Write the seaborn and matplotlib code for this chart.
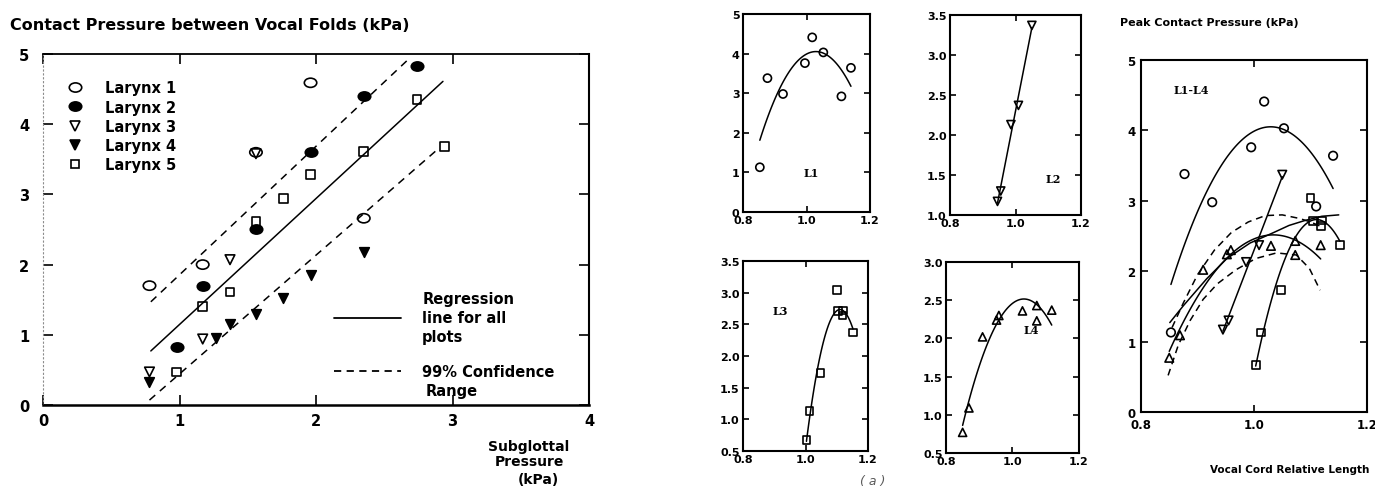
import numpy as np
import matplotlib
matplotlib.use("Agg")
import matplotlib.pyplot as plt
from matplotlib.lines import Line2D
from matplotlib.path import Path
from matplotlib.transforms import Affine2D
from matplotlib.ticker import FormatStrFormatter
import seaborn as sns

# ---------------- data ----------------
# Contact pressure between vocal folds vs subglottal pressure (kPa)
larynx1_x = [0.78, 1.17, 1.56, 1.96, 2.35]
larynx1_y = [1.70, 2.00, 3.60, 4.59, 2.66]
larynx2_x = [0.98, 1.17, 1.56, 1.96, 2.35, 2.74]
larynx2_y = [0.83, 1.70, 2.51, 3.61, 4.40, 4.83]
larynx3_x = [0.78, 1.17, 1.37, 1.56]
larynx3_y = [0.47, 0.94, 2.07, 3.58]
larynx4_x = [0.78, 1.27, 1.37, 1.56, 1.76, 1.96, 2.35]
larynx4_y = [0.33, 0.95, 1.16, 1.30, 1.52, 1.85, 2.18]
larynx5_x = [0.98, 1.17, 1.37, 1.56, 1.76, 1.96, 2.35, 2.74, 2.94]
larynx5_y = [0.47, 1.40, 1.61, 2.61, 2.94, 3.28, 3.61, 4.35, 3.68]
larynx_labels = ["Larynx 1", "Larynx 2", "Larynx 3", "Larynx 4", "Larynx 5"]

# regression line for all plots and its 99% confidence limits
regression_x = [0.79, 2.93]
regression_y = [0.77, 4.61]
conf_upper_x = [0.79, 2.68]
conf_upper_y = [1.47, 4.93]
conf_lower_x = [0.78, 2.89]
conf_lower_y = [0.07, 3.64]

# Peak contact pressure (kPa) vs vocal cord relative length, larynges L1-L4
l1_len = [0.853, 0.877, 0.926, 0.995, 1.018, 1.053, 1.110, 1.140]
l1_peak = [1.13, 3.38, 2.98, 3.76, 4.41, 4.03, 2.92, 3.64]
l2_len = [0.945, 0.955, 0.986, 1.009, 1.050]
l2_peak = [1.17, 1.30, 2.13, 2.37, 3.37]
l3_len = [1.003, 1.013, 1.048, 1.100, 1.104, 1.118, 1.120, 1.152]
l3_peak = [0.67, 1.13, 1.73, 3.04, 2.71, 2.64, 2.72, 2.37]
l4_len = [0.850, 0.869, 0.910, 0.952, 0.959, 1.030, 1.073, 1.073, 1.118]
l4_peak = [0.77, 1.09, 2.02, 2.24, 2.30, 2.36, 2.43, 2.23, 2.37]

# combined trend and confidence band in the L1-L4 panel
combined_len = [0.851, 0.875, 0.916, 0.952, 0.993, 1.035, 1.062, 1.090, 1.120, 1.150]
combined_peak = [1.27, 1.51, 1.89, 2.18, 2.40, 2.55, 2.65, 2.72, 2.78, 2.80]
band_upper_len = [0.855, 0.875, 0.900, 0.930, 0.960, 0.990, 1.020, 1.050, 1.080, 1.100, 1.117]
band_upper_peak = [1.20, 1.55, 1.95, 2.30, 2.55, 2.70, 2.79, 2.80, 2.75, 2.70, 2.64]
band_lower_len = [0.848, 0.866, 0.887, 0.910, 0.935, 0.968, 1.003, 1.040, 1.075, 1.098, 1.117]
band_lower_peak = [0.52, 0.95, 1.30, 1.60, 1.82, 2.02, 2.18, 2.26, 2.23, 2.04, 1.73]

# ---------------- style ----------------
sns.set_theme(style="ticks", rc={
    "axes.edgecolor": "black", "xtick.color": "black", "ytick.color": "black",
    "text.color": "black", "axes.labelcolor": "black",
})
plt.rcParams["font.family"] = ["DejaVu Sans"]
plt.rcParams["font.weight"] = "bold"

W, H = 1375, 502
fig = plt.figure(figsize=(W / 100, H / 100), dpi=100)


def add_axes(left, right, top, bottom):
    return fig.add_axes([left / W, 1 - bottom / H, (right - left) / W, (bottom - top) / H])


ellipse = Path.unit_circle().transformed(Affine2D().scale(1.35, 1.0))


def draw_points(ax, x, y, marker, filled, size, lw=1.2):
    sns.scatterplot(x=x, y=y, marker=marker, s=size,
                    color="black" if filled else "none", edgecolor="black",
                    linewidth=lw, legend=False, ax=ax, zorder=3)


def draw_fit(ax, x, y, order):
    sns.regplot(x=np.asarray(x), y=np.asarray(y), order=order, ci=None,
                scatter=False, truncate=True, color="black",
                line_kws={"linewidth": 1.1}, ax=ax)


# ---------------- left panel ----------------
MAIN_FS = 10.5
ax = add_axes(43, 589, 55, 406)
series = [
    (larynx1_x, larynx1_y, ellipse, False, 80),
    (larynx2_x, larynx2_y, ellipse, True, 80),
    (larynx3_x, larynx3_y, "v", False, 48),
    (larynx4_x, larynx4_y, "v", True, 48),
    (larynx5_x, larynx5_y, "s", False, 40),
]
for x, y, m, filled, s in series:
    draw_points(ax, x, y, m, filled, s)

sns.lineplot(x=regression_x, y=regression_y, color="black", linewidth=1.1, ax=ax)
sns.lineplot(x=conf_upper_x, y=conf_upper_y, color="black", linewidth=1.1,
             linestyle=(0, (5, 4)), ax=ax)
sns.lineplot(x=conf_lower_x, y=conf_lower_y, color="black", linewidth=1.1,
             linestyle=(0, (5, 4)), ax=ax)

ax.set_xlim(0, 4)
ax.set_ylim(0, 5)
ax.set_xticks(range(5))
ax.set_yticks(range(6))
ax.tick_params(direction="in", length=7, width=1.2, top=True, right=True, labelsize=MAIN_FS)
ax.tick_params(axis="x", pad=6)
ax.tick_params(axis="y", pad=10)
ax.spines["left"].set_linestyle((0, (1, 2.5)))
ax.spines["left"].set_color("0.55")
ax.spines["left"].set_linewidth(0.8)
ax.spines["bottom"].set_linewidth(1.8)
ax.spines["top"].set_linewidth(1.3)
ax.spines["right"].set_linewidth(1.5)

handles = []
for x, y, m, filled, s in series:
    handles.append(Line2D([], [], linestyle="none", marker=m,
                          markersize=np.sqrt(s),
                          markerfacecolor="black" if filled else "none",
                          markeredgecolor="black", markeredgewidth=1.2))
leg1 = ax.legend(handles, larynx_labels, loc="upper left",
                 bbox_to_anchor=(0.045, 0.925), frameon=False, fontsize=MAIN_FS,
                 borderpad=0, borderaxespad=0, handlelength=1.0,
                 handletextpad=1.55, labelspacing=0.29)
ax.add_artist(leg1)

key_handles = [Line2D([], [], color="black", linewidth=1.3),
               Line2D([], [], color="black", linewidth=1.3, linestyle=(0, (4, 3)))]
leg2 = ax.legend(key_handles, ["Regression\nline for all\nplots", "99% Confidence"],
                 loc="upper left", bbox_to_anchor=(0.533, 0.326), frameon=False,
                 fontsize=MAIN_FS, borderpad=0, borderaxespad=0, handlelength=4.6,
                 handletextpad=1.45, labelspacing=1.4)
for t in leg2.get_texts():
    t.set_linespacing(1.35)
ax.text(2.80, 0.20, "Range", fontsize=MAIN_FS, ha="left", va="center")

ax.text(3.56, -0.585, "Subglottal", fontsize=10, ha="center", va="center", clip_on=False)
ax.text(3.56, -0.80, "Pressure", fontsize=10, ha="center", va="center", clip_on=False)
ax.text(3.63, -1.05, "(kPa)", fontsize=10, ha="center", va="center", clip_on=False)

fig.text(10 / W, 1 - 25 / H, "Contact Pressure between Vocal Folds (kPa)",
         fontsize=11.5, ha="left", va="center")

# ---------------- individual larynx panels ----------------
panels = [
    ((743, 870, 15, 213), l1_len, l1_peak, "o", 2, (0, 5), np.arange(0, 6, 1), "%d", "L1", (1.016, 0.99)),
    ((950, 1081, 16, 216), l2_len, l2_peak, "v", 1, (1.0, 3.5), np.arange(1.0, 3.51, 0.5), "%.1f", "L2", (1.116, 1.46)),
    ((743, 868, 262, 452), l3_len, l3_peak, "s", 2, (0.5, 3.5), np.arange(0.5, 3.51, 0.5), "%.1f", "L3", (0.92, 2.72)),
    ((946, 1079, 263, 454), l4_len, l4_peak, "^", 2, (0.5, 3.0), np.arange(0.5, 3.01, 0.5), "%.1f", "L4", (1.055, 2.12)),
]
for box, x, y, m, order, ylim, yticks, fmt, name, pos in panels:
    pax = add_axes(*box)
    draw_fit(pax, x, y, order)
    draw_points(pax, x, y, m, False, 34 if m != "s" else 30)
    pax.set_xlim(0.8, 1.2)
    pax.set_ylim(*ylim)
    pax.set_xticks([0.8, 1.0, 1.2])
    pax.set_yticks(yticks)
    pax.xaxis.set_major_formatter(FormatStrFormatter("%.1f"))
    pax.yaxis.set_major_formatter(FormatStrFormatter(fmt))
    pax.tick_params(direction="in", length=4, width=1.2, top=True, right=True,
                    labelsize=8, pad=2.5)
    for sp in pax.spines.values():
        sp.set_linewidth(1.5)
    pax.set_xlabel("")
    pax.set_ylabel("")
    pax.text(pos[0], pos[1], name, family="DejaVu Serif", fontsize=8,
             ha="center", va="center")

fig.text(873 / W, 1 - 482 / H, "( a )", fontsize=9, style="italic",
         fontweight="normal", color="0.35", ha="center", va="center")

# ---------------- combined L1-L4 panel ----------------
cax = add_axes(1141, 1367, 61, 413)
for x, y, m, order in [(l1_len, l1_peak, "o", 2), (l2_len, l2_peak, "v", 1),
                       (l3_len, l3_peak, "s", 2), (l4_len, l4_peak, "^", 2)]:
    draw_fit(cax, x, y, order)
    draw_points(cax, x, y, m, False, 38 if m != "s" else 32)

sns.lineplot(x=combined_len, y=combined_peak, sort=False, estimator=None,
             color="black", linewidth=1.1, ax=cax)
sns.lineplot(x=band_upper_len, y=band_upper_peak, sort=False, estimator=None,
             color="black", linewidth=1.1, linestyle=(0, (4.5, 3.2)), ax=cax)
sns.lineplot(x=band_lower_len, y=band_lower_peak, sort=False, estimator=None,
             color="black", linewidth=1.1, linestyle=(0, (4.5, 3.2)), ax=cax)

cax.set_xlim(0.8, 1.2)
cax.set_ylim(0, 5)
cax.set_xticks([0.8, 1.0, 1.2])
cax.set_yticks(range(6))
cax.xaxis.set_major_formatter(FormatStrFormatter("%.1f"))
cax.tick_params(direction="in", length=5, width=1.2, top=True, right=True,
                labelsize=8.5, pad=4)
for sp in cax.spines.values():
    sp.set_linewidth(1.5)
cax.set_xlabel("")
cax.set_ylabel("")
cax.text(0.858, 4.58, "L1-L4", family="DejaVu Serif", fontsize=8, ha="left", va="center")

fig.text(1120 / W, 1 - 23 / H, "Peak Contact Pressure (kPa)", fontsize=8,
         ha="left", va="center")
fig.text(1210 / W, 1 - 470 / H, "Vocal Cord Relative Length", fontsize=7.5,
         ha="left", va="center")

fig.savefig("out.png", dpi=100, facecolor="white")
